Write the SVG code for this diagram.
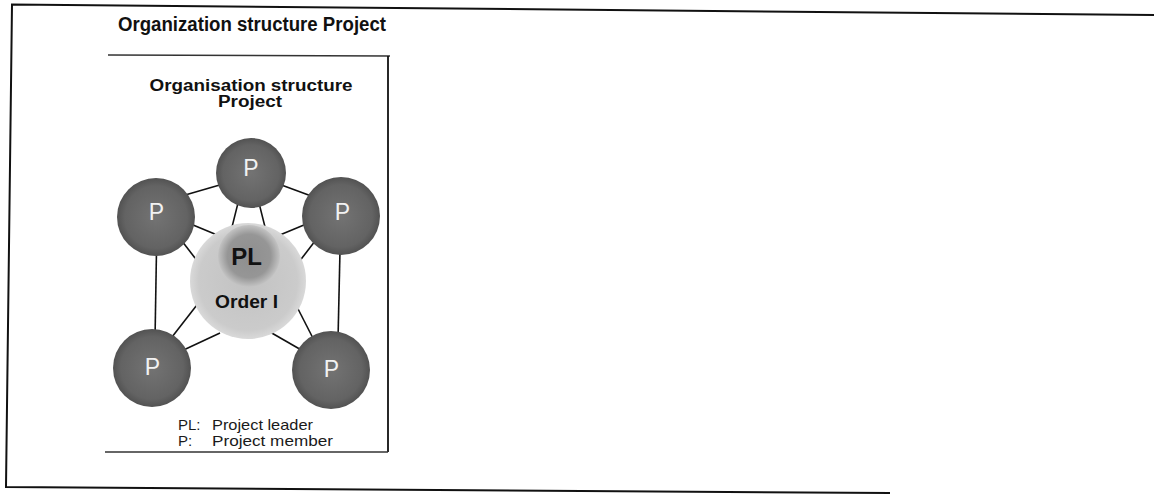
<svg xmlns="http://www.w3.org/2000/svg" width="1154" height="495" viewBox="0 0 1154 495">
<style>
  .frame { fill: none; stroke: #111; stroke-width: 2; }
  .box { fill: none; stroke: #333; stroke-width: 1.3; }
  .conn line { stroke: #111; stroke-width: 1.6; }
  .pc { fill: url(#gP); }
  .pt { font-family: "Liberation Sans", Arial, sans-serif; font-size: 23px; fill: #f2f2f2; text-anchor: middle; }
  .title { font-family: "Liberation Sans", Arial, sans-serif; font-weight: bold; fill: #111; }
  .legend { font-family: "Liberation Sans", Arial, sans-serif; font-size: 15px; fill: #1a1a1a; }
</style>
<defs>
  <radialGradient id="gP" cx="50%" cy="50%" r="50%">
    <stop offset="0" stop-color="#737373"/>
    <stop offset="0.8" stop-color="#636363"/>
    <stop offset="1" stop-color="#525252"/>
  </radialGradient>
  <radialGradient id="gO" cx="50%" cy="50%" r="50%">
    <stop offset="0" stop-color="#c2c2c2"/>
    <stop offset="0.85" stop-color="#cbcbcb"/>
    <stop offset="1" stop-color="#d9d9d9"/>
  </radialGradient>
  <radialGradient id="gPL" cx="50%" cy="50%" r="50%">
    <stop offset="0" stop-color="#8e8e8e"/>
    <stop offset="0.7" stop-color="#969696"/>
    <stop offset="1" stop-color="#c3c3c3"/>
  </radialGradient>
</defs>
<rect width="1154" height="495" fill="#fff"/>

<g id="frame">
  <path class="frame" d="M1154,15 L12,4.5 L6,487 L890,493"/>
  <path class="box" d="M108,55 L390,56"/>
  <path d="M388,56 L388,452" fill="none" stroke="#111" stroke-width="1.8"/>
  <path class="box" d="M105,452 L388,452"/>
</g>

<g id="heading">
  <text class="title" x="118" y="31" font-size="20" textLength="268" lengthAdjust="spacingAndGlyphs">Organization structure Project</text>
  <text class="title" x="251" y="91" font-size="16" text-anchor="middle" textLength="203" lengthAdjust="spacingAndGlyphs">Organisation structure</text>
  <text class="title" x="250" y="107" font-size="16" text-anchor="middle" textLength="64" lengthAdjust="spacingAndGlyphs">Project</text>
</g>

<g id="connectors" class="conn">
  <line x1="230" y1="182" x2="180" y2="196.4"/>
  <line x1="272" y1="181.4" x2="318" y2="198.6"/>
  <line x1="240" y1="195" x2="230" y2="235"/>
  <line x1="257" y1="195" x2="267" y2="235"/>
  <line x1="175" y1="217.6" x2="222" y2="237"/>
  <line x1="175" y1="232" x2="205" y2="271"/>
  <line x1="322" y1="217.6" x2="275" y2="237"/>
  <line x1="322" y1="232" x2="292" y2="271"/>
  <line x1="156.5" y1="250" x2="155" y2="340"/>
  <line x1="340" y1="250" x2="338" y2="340"/>
  <line x1="165" y1="346" x2="200" y2="301"/>
  <line x1="175" y1="354" x2="220" y2="333"/>
  <line x1="318" y1="348" x2="295" y2="303"/>
  <line x1="310" y1="355" x2="270" y2="332"/>
</g>

<g id="node-order">
  <circle cx="248" cy="281" r="58" fill="url(#gO)"/>
  <text class="title" x="246.5" y="308" font-size="18" fill="#222" text-anchor="middle" textLength="63" lengthAdjust="spacingAndGlyphs">Order I</text>
</g>
<g id="node-pl">
  <circle cx="249" cy="256" r="31" fill="url(#gPL)"/>
  <text class="title" x="246.5" y="265" font-size="24" text-anchor="middle">PL</text>
</g>
<g id="node-p-top">
  <circle class="pc" cx="251" cy="173" r="35"/>
  <text class="pt" x="251" y="176">P</text>
</g>
<g id="node-p-upper-left">
  <circle class="pc" cx="156" cy="217" r="39"/>
  <text class="pt" x="156.5" y="220">P</text>
</g>
<g id="node-p-upper-right">
  <circle class="pc" cx="341" cy="216" r="39"/>
  <text class="pt" x="342.5" y="220">P</text>
</g>
<g id="node-p-lower-left">
  <circle class="pc" cx="152" cy="368" r="39"/>
  <text class="pt" x="152.5" y="375">P</text>
</g>
<g id="node-p-lower-right">
  <circle class="pc" cx="331" cy="370" r="39"/>
  <text class="pt" x="331.5" y="377">P</text>
</g>

<g id="legend">
  <text class="legend" x="178" y="430">PL:</text>
  <text class="legend" x="212" y="430" textLength="101" lengthAdjust="spacingAndGlyphs">Project leader</text>
  <text class="legend" x="178" y="446">P:</text>
  <text class="legend" x="212" y="446" textLength="121" lengthAdjust="spacingAndGlyphs">Project member</text>
</g>
</svg>
